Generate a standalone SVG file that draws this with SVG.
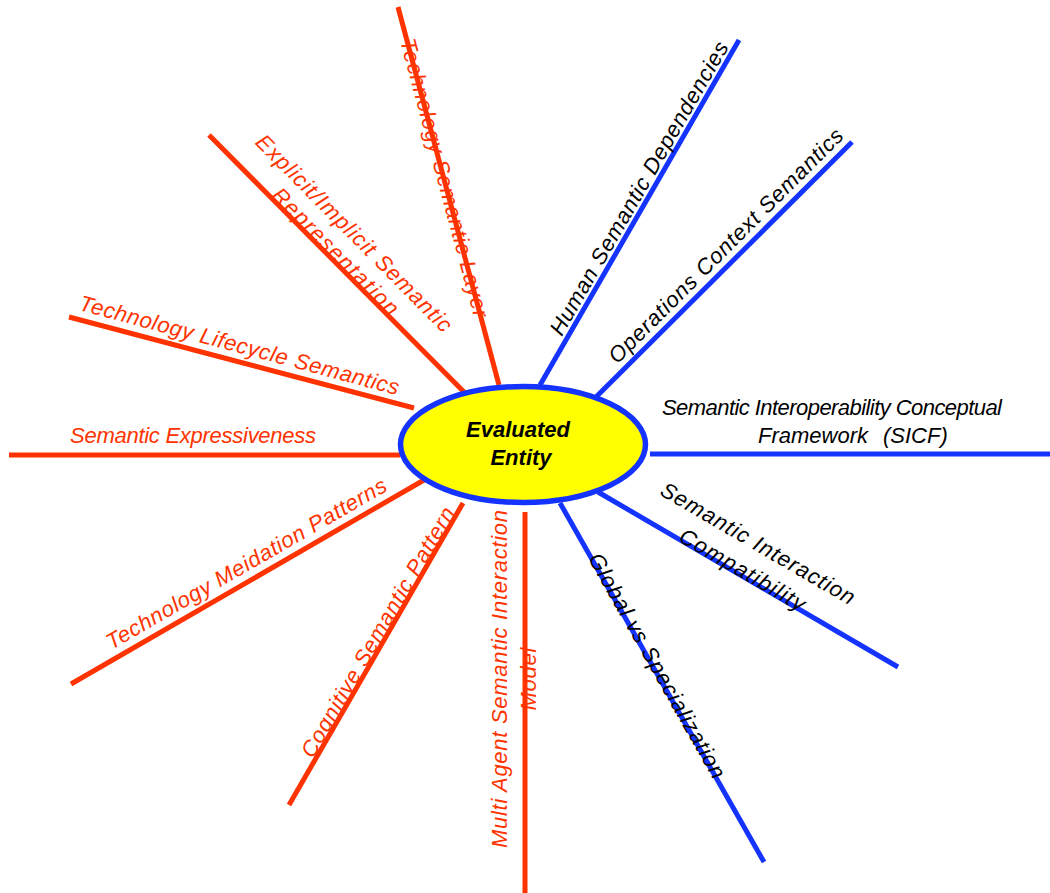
<svg xmlns="http://www.w3.org/2000/svg" width="1050" height="893" viewBox="0 0 1050 893">
<style>
.r{stroke:#FF3300;stroke-width:5;fill:none}
.b{stroke:#1433FF;stroke-width:5;fill:none}
.t{font-family:"Liberation Sans",Arial,sans-serif;font-style:italic;font-size:22px}
.tr{fill:#FF3300}
.tb{fill:#000}
</style>
<rect width="1050" height="893" fill="#fff"/>
<g id="connectors">
<line class="r" x1="398" y1="7" x2="499" y2="385"/>
<line class="r" x1="209" y1="135" x2="466" y2="394"/>
<line class="r" x1="69" y1="317" x2="414" y2="408"/>
<line class="r" x1="9" y1="455" x2="400" y2="455"/>
<line class="r" x1="71" y1="684" x2="424" y2="480"/>
<line class="r" x1="289" y1="805" x2="463" y2="503"/>
<line class="r" x1="525" y1="512" x2="525" y2="893"/>
<line class="b" x1="540" y1="385" x2="739" y2="40"/>
<line class="b" x1="595" y1="398" x2="852" y2="142"/>
<line class="b" x1="650" y1="454" x2="1050" y2="454"/>
<line class="b" x1="598" y1="492" x2="898" y2="667"/>
<line class="b" x1="560" y1="503" x2="764" y2="862"/>
</g>
<g id="node-center">
<ellipse cx="523" cy="444.5" rx="122.5" ry="58" fill="#FFFF00" stroke="#1433FF" stroke-width="5.5"/>
<text class="t" x="518" y="437" text-anchor="middle" font-weight="bold" font-size="21px" fill="#000">Evaluated</text>
<text class="t" x="521" y="465" text-anchor="middle" font-weight="bold" font-size="21px" fill="#000">Entity</text>
</g>
<g id="label-technology-semantic-layer" transform="translate(444,178) rotate(75)">
<text class="t tr" x="0" y="7" text-anchor="middle" textLength="288" lengthAdjust="spacing">Technology Semantic Layer</text>
</g>
<g id="label-explicit-implicit" transform="translate(331,256) rotate(45.2)">
<text class="t tr" x="0" y="-25" text-anchor="middle" textLength="268" lengthAdjust="spacing">Explicit/Implicit Semantic</text>
<text class="t tr" x="0" y="1" text-anchor="middle" textLength="170" lengthAdjust="spacing">Representation</text>
</g>
<g id="label-lifecycle" transform="translate(237.5,352.5) rotate(15)">
<text class="t tr" x="0" y="0" text-anchor="middle" textLength="330" lengthAdjust="spacing">Technology Lifecycle Semantics</text>
</g>
<g id="label-expressiveness">
<text class="t tr" x="70" y="443" textLength="246" lengthAdjust="spacing">Semantic Expressiveness</text>
</g>
<g id="label-meidation" transform="translate(250,570) rotate(-30)">
<text class="t tr" x="0" y="0" text-anchor="middle" textLength="320" lengthAdjust="spacing">Technology Meidation Patterns</text>
</g>
<g id="label-cognitive" transform="translate(383,635) rotate(-60)">
<text class="t tr" x="0" y="1.5" text-anchor="middle" textLength="285" lengthAdjust="spacing">Cognitive Semantic Pattern</text>
</g>
<g id="label-multi-agent" transform="translate(525,679) rotate(-90)">
<text class="t tr" x="0" y="-18" text-anchor="middle" textLength="338" lengthAdjust="spacing">Multi Agent Semantic Interaction</text>
<text class="t tr" x="0" y="11" text-anchor="middle" textLength="63" lengthAdjust="spacing">Model</text>
</g>
<g id="label-human" transform="translate(645.5,192) rotate(-60)">
<text class="t tb" x="0" y="0" text-anchor="middle" textLength="335" lengthAdjust="spacing">Human Semantic Dependencies</text>
</g>
<g id="label-operations" transform="translate(731,251) rotate(-45)">
<text class="t tb" x="0" y="0" text-anchor="middle" textLength="322" lengthAdjust="spacing">Operations Context Semantics</text>
</g>
<g id="label-sicf">
<text class="t tb" x="662" y="415" textLength="340" lengthAdjust="spacing">Semantic Interoperability Conceptual</text>
<text class="t tb" x="758" y="443">Framework<tspan x="883">(SICF)</tspan></text>
</g>
<g id="label-compatibility" transform="translate(740,574) rotate(30.26)">
<text class="t tb" x="0" y="-28" text-anchor="middle" textLength="221" lengthAdjust="spacing">Semantic Interaction</text>
<text class="t tb" x="0" y="2.5" text-anchor="middle" textLength="142" lengthAdjust="spacing">Compatibility</text>
</g>
<g id="label-global" transform="translate(655,667) rotate(60.4)">
<text class="t tb" x="0" y="5" text-anchor="middle" textLength="255" lengthAdjust="spacing">Global vs Specialization</text>
</g>
</svg>
